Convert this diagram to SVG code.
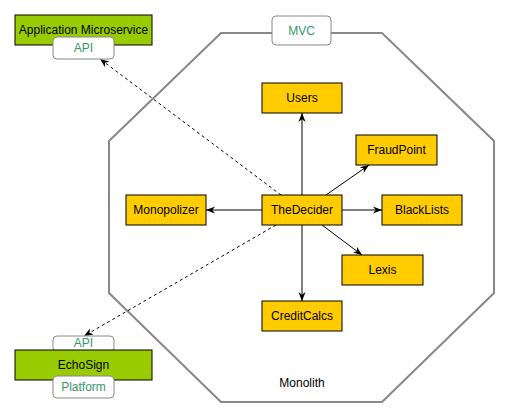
<svg xmlns="http://www.w3.org/2000/svg" width="509" height="417" viewBox="0 0 509 417">
<style>
text{font-family:"Liberation Sans",Arial,sans-serif;font-size:12px;text-anchor:middle;dominant-baseline:central;fill:#000}
.y{fill:#FFCC00;stroke:#000;stroke-width:1}
.g{fill:#99CC00;stroke:#000;stroke-width:1}
.lb{fill:#fff;stroke:#888;stroke-width:1}
.lt{fill:#339966}
.c{stroke:#000;stroke-width:1;fill:none;marker-end:url(#ah)}
.d{stroke-dasharray:3,3}
</style>
<defs>
<marker id="ah" viewBox="0 0 10 10" refX="10" refY="5" markerWidth="9" markerHeight="9" markerUnits="userSpaceOnUse" orient="auto">
<path d="M0,1 L10,5 L0,9 L3,5 Z" fill="#000"/>
</marker>
</defs>
<rect width="509" height="417" fill="#fff"/>
<g id="monolith">
<polygon points="221,33 382,33 494,141 494,293 382,402 221,402 109,293 109,141" fill="none" stroke="#888" stroke-width="2"/>
<text x="302" y="383">Monolith</text>
</g>
<g id="mvc">
<rect class="lb" x="272" y="16" width="59" height="29" rx="4"/>
<text class="lt" x="301.5" y="30.5">MVC</text>
</g>
<g id="connectors">
<line class="c" x1="302" y1="195" x2="302" y2="113"/>
<line class="c" x1="326" y1="195" x2="369" y2="165"/>
<line class="c" x1="262" y1="210" x2="206" y2="210"/>
<line class="c" x1="342" y1="210" x2="382" y2="210"/>
<line class="c" x1="322" y1="225" x2="362" y2="255"/>
<line class="c" x1="302" y1="225" x2="302" y2="301"/>
<line class="c d" x1="281" y1="195" x2="100" y2="59"/>
<line class="c d" x1="276" y1="225" x2="84" y2="336"/>
</g>
<g id="users"><rect class="y" x="262" y="83" width="80" height="30"/><text x="302" y="98">Users</text></g>
<g id="fraudpoint"><rect class="y" x="356" y="135" width="81" height="30"/><text x="396.5" y="150">FraudPoint</text></g>
<g id="thedecider"><rect class="y" x="262" y="195" width="80" height="30"/><text x="302" y="210">TheDecider</text></g>
<g id="monopolizer"><rect class="y" x="126" y="195" width="80" height="30"/><text x="166" y="210">Monopolizer</text></g>
<g id="blacklists"><rect class="y" x="382" y="195" width="80" height="30"/><text x="422" y="210">BlackLists</text></g>
<g id="lexis"><rect class="y" x="342" y="255" width="81" height="30"/><text x="382.5" y="270">Lexis</text></g>
<g id="creditcalcs"><rect class="y" x="262" y="301" width="80" height="30"/><text x="302" y="316">CreditCalcs</text></g>
<g id="appmicro">
<rect class="g" x="15" y="15" width="137" height="30"/>
<text x="83.5" y="30">Application Microservice</text>
<rect class="lb" x="53" y="37" width="61" height="22" rx="4"/>
<text class="lt" x="83.5" y="48">API</text>
</g>
<g id="echosign">
<rect class="lb" x="53" y="336" width="61" height="16" rx="4"/>
<text class="lt" x="83.5" y="343">API</text>
<rect class="g" x="15" y="350" width="137" height="30"/>
<text x="83.5" y="365">EchoSign</text>
<rect class="lb" x="53" y="376" width="61" height="22" rx="4"/>
<text class="lt" x="83.5" y="387">Platform</text>
</g>
</svg>
